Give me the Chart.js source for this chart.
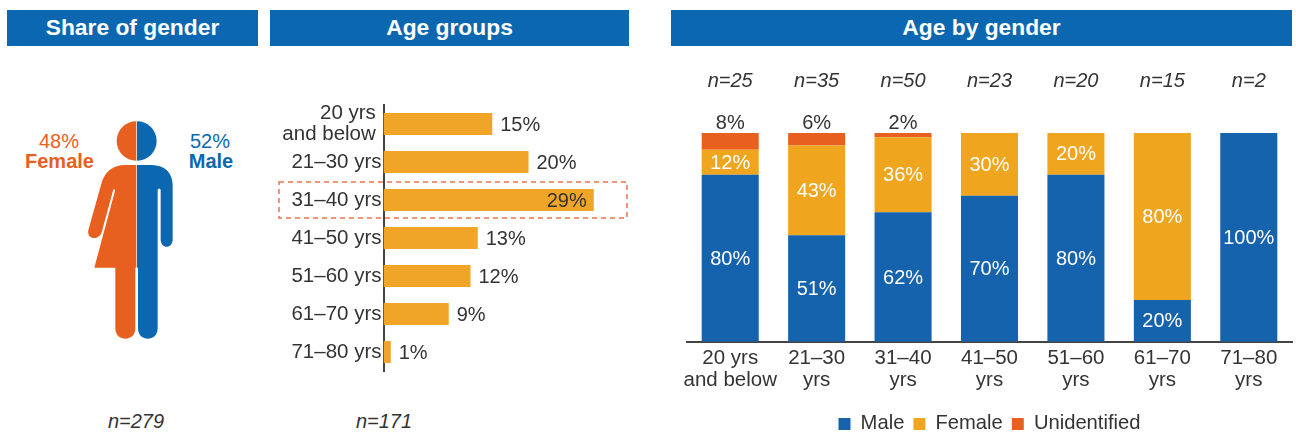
<!DOCTYPE html>
<html>
<head>
<meta charset="utf-8">
<script src="https://cdn.jsdelivr.net/npm/chart.js@4"></script>
<style>
html,body{margin:0;padding:0;background:#fff;width:1296px;height:432px;overflow:hidden;font-family:"Liberation Sans",Arial,sans-serif;}
.hd{position:absolute;top:10px;height:36px;line-height:35px;background:#0b68b0;color:#fff;text-align:center;font-weight:700;font-size:22.8px;}
.t{position:absolute;transform:translate(-50%,-50%);white-space:nowrap;font-size:20px;line-height:20px;}
.n{font-style:italic;color:#333;}
canvas{position:absolute;top:0;}
svg{position:absolute;left:0;top:0;}
</style>
</head>
<body>
<div class="hd" style="left:7px;width:251px">Share of gender</div>
<div class="hd" style="left:270px;width:359px">Age groups</div>
<div class="hd" style="left:671px;width:621px">Age by gender</div>

<svg width="260" height="432" viewBox="0 0 780 1296">
  <path fill="#e8601f" d="M409 364 A59 59 0 0 0 409 482 Z"/>
  <path fill="#0b68b0" d="M411 364 A59 59 0 0 1 411 482 Z"/>
  <path fill="#e8601f" d="M409 495 L375 495 C340 495 312 515 303 555 L265 690 C259 720 298 722 305 697 L339 572 C340 566 345 566 345 572 L283 803 L346 803 L346 985 C346 1027 406 1027 406 985 L406 803 L409 803 Z"/>
  <path fill="#0b68b0" d="M411 495 L455 495 C495 495 518 520 518 555 L518 718 C518 748 482 748 482 718 L482 572 C482 563 473 563 473 572 L473 985 C473 1027 414 1027 414 985 L414 803 L411 803 Z"/>
</svg>
<div class="t" id="fp" style="left:59px;top:141px;color:#e8601f"></div>
<div class="t" id="fl" style="left:59.5px;top:161px;color:#e8601f;font-weight:700"></div>
<div class="t" id="mp" style="left:210px;top:141px;color:#0b68b0"></div>
<div class="t" id="ml" style="left:211px;top:161px;color:#0b68b0;font-weight:700"></div>
<div class="t n" id="n1" style="left:136px;top:421px"></div>
<div class="t n" id="n2" style="left:384px;top:421px"></div>

<canvas id="ages" width="360" height="432" style="left:270px"></canvas>
<canvas id="stack" width="614" height="444" style="left:682px"></canvas>

<script>
const genderNames = ["Female", "Male"];
const genderShares = [48, 52];
const sampleGender = "n=279";
const sampleAges = "n=171";

const ageBarLabels = [["20 yrs", "and below"], "21–30 yrs", "31–40 yrs", "41–50 yrs", "51–60 yrs", "61–70 yrs", "71–80 yrs"];
const ageBarValues = [15, 20, 29, 13, 12, 9, 1];
const highlightedAgeIndex = 2;

const stackLabels = [["20 yrs", "and below"], ["21–30", "yrs"], ["31–40", "yrs"], ["41–50", "yrs"], ["51–60", "yrs"], ["61–70", "yrs"], ["71–80", "yrs"]];
const stackSamples = ["n=25", "n=35", "n=50", "n=23", "n=20", "n=15", "n=2"];
const maleValues = [80, 51, 62, 70, 80, 20, 100];
const femaleValues = [12, 43, 36, 30, 20, 80, 0];
const unidentifiedValues = [8, 6, 2, 0, 0, 0, 0];

const BLUE = "#1562ad", AMBER = "#f0a51e", RED = "#e8601f", AGE_BAR = "#f0a428", TEXT = "#333333";
const FONT = '"Liberation Sans", Arial, sans-serif';

document.getElementById("fp").textContent = genderShares[0] + "%";
document.getElementById("fl").textContent = genderNames[0];
document.getElementById("mp").textContent = genderShares[1] + "%";
document.getElementById("ml").textContent = genderNames[1];
document.getElementById("n1").textContent = sampleGender;
document.getElementById("n2").textContent = sampleAges;

const ageLabelsPlugin = {
  id: "ageLabels",
  afterDatasetsDraw(chart) {
    const ctx = chart.ctx, meta = chart.getDatasetMeta(0), y = chart.scales.y;
    ctx.save();
    const yc = y.getPixelForValue(highlightedAgeIndex), half = 18;
    ctx.strokeStyle = "#ea7148"; ctx.lineWidth = 1.5; ctx.setLineDash([5, 4]);
    ctx.strokeRect(9, yc - half, 348, half * 2);
    ctx.setLineDash([]);
    ctx.font = "20px " + FONT; ctx.fillStyle = TEXT; ctx.textBaseline = "middle";
    meta.data.forEach((bar, i) => {
      const s = ageBarValues[i] + "%";
      if (i === highlightedAgeIndex) { ctx.textAlign = "right"; ctx.fillText(s, bar.x - 7, bar.y + 1); }
      else { ctx.textAlign = "left"; ctx.fillText(s, bar.x + 8, bar.y + 1); }
    });
    ctx.restore();
  }
};

new Chart(document.getElementById("ages"), {
  type: "bar",
  data: { labels: ageBarLabels, datasets: [{ data: ageBarValues, backgroundColor: AGE_BAR, categoryPercentage: 1, barPercentage: 0.58 }] },
  options: {
    indexAxis: "y", responsive: false, animation: false,
    layout: { padding: { top: 105, bottom: 61, left: 0, right: 0 } },
    plugins: { legend: { display: false }, tooltip: { enabled: false } },
    scales: {
      x: { display: false, min: 0, max: 34 },
      y: {
        afterFit(s) { s.width = 113.5; },
        grid: { display: false, drawTicks: false },
        border: { color: "#444444", width: 2 },
        ticks: {
          color: TEXT, font: { family: FONT, size: 20.5, lineHeight: 1.03 }, padding: 2, autoSkip: false,
          callback(v) { const l = this.getLabelForValue(v); return Array.isArray(ageBarLabels[v]) ? ageBarLabels[v].map(x => x + " ") : l; }
        }
      }
    }
  },
  plugins: [ageLabelsPlugin]
});

const stackLabelsPlugin = {
  id: "stackLabels",
  afterDatasetsDraw(chart) {
    const ctx = chart.ctx;
    ctx.save();
    ctx.textAlign = "center"; ctx.textBaseline = "middle"; ctx.font = "20px " + FONT;
    chart.data.datasets.forEach((ds, d) => {
      chart.getDatasetMeta(d).data.forEach((bar, i) => {
        const v = ds.data[i];
        if (!v) return;
        const s = v + "%";
        if (d === 2) { ctx.fillStyle = TEXT; ctx.fillText(s, bar.x, chart.chartArea.top - 10); }
        else { ctx.fillStyle = "#ffffff"; ctx.fillText(s, bar.x, (bar.y + bar.base) / 2 + 1); }
      });
    });
    ctx.font = "italic 20px " + FONT; ctx.fillStyle = TEXT;
    stackSamples.forEach((s, i) => ctx.fillText(s, chart.scales.x.getPixelForValue(i), 81));
    ctx.restore();
  }
};

new Chart(document.getElementById("stack"), {
  type: "bar",
  data: {
    labels: stackLabels,
    datasets: [
      { label: "Male", data: maleValues, backgroundColor: BLUE },
      { label: "Female", data: femaleValues, backgroundColor: AMBER },
      { label: "Unidentified", data: unidentifiedValues, backgroundColor: RED }
    ]
  },
  options: {
    responsive: false, animation: false,
    datasets: { bar: { categoryPercentage: 1, barPercentage: 0.66 } },
    layout: { padding: { top: 133, bottom: 0, left: 5, right: 4 } },
    plugins: {
      tooltip: { enabled: false },
      legend: {
        position: "bottom",
        labels: { color: TEXT, boxWidth: 12, boxHeight: 12, padding: 9, font: { family: FONT, size: 20.2 } }
      }
    },
    scales: {
      x: {
        stacked: true,
        afterFit(s) { s.height = 63; s.paddingLeft = 0; s.paddingRight = 0; },
        grid: { display: false, drawTicks: false },
        border: { color: "#444444", width: 2 },
        ticks: { color: TEXT, font: { family: FONT, size: 20.5, lineHeight: 1.07 }, padding: 6, maxRotation: 0, autoSkip: false }
      },
      y: { stacked: true, display: false, min: 0, max: 100 }
    }
  },
  plugins: [stackLabelsPlugin]
});
</script>
</body>
</html>
